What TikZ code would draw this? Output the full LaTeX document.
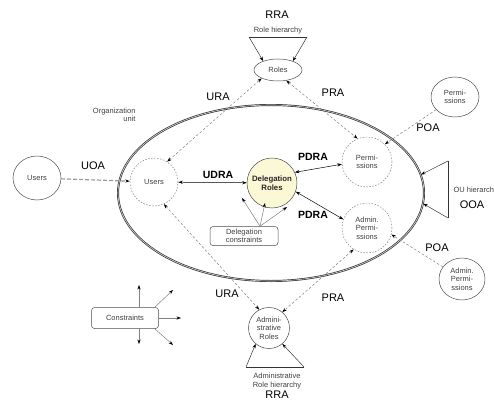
\documentclass[tikz,border=0pt]{standalone}
\usepackage{fontspec}
\setmainfont{Liberation Sans}
\usetikzlibrary{arrows.meta,shapes.geometric,calc}
\definecolor{dryellow}{HTML}{FBF8D6}
\begin{document}
\begin{tikzpicture}[x=1pt,y=-1pt,
  tip/.tip={Stealth[length=4.5pt,width=3.2pt,black]},
  small/.style={font=\fontsize{7.5}{8.5}\selectfont, text=black!75, align=center},
  lbl/.style={font=\fontsize{11}{12}\selectfont, inner sep=0pt},
  blbl/.style={font=\fontsize{10.5}{12}\selectfont\bfseries, inner sep=0pt},
  dcirc/.style={circle, draw=gray, dash pattern=on 1.5pt off 1.5pt, line width=0.5pt, inner sep=0pt, small},
  sell/.style={ellipse, draw=black!70, line width=0.5pt, inner sep=0pt, small},
  dline/.style={draw=gray, dash pattern=on 2.5pt off 2pt, line width=0.5pt},
  sline/.style={draw=black, line width=0.5pt},
  gline/.style={draw=gray, line width=0.5pt},
  hline/.style={draw=black!80, line width=0.5pt},
  uoaline/.style={draw=gray!80, dash pattern=on 4pt off 2pt, line width=1.2pt},
  box/.style={draw=black!70, line width=0.5pt, rounded corners=3pt, inner sep=1pt, small}
]
\useasboundingbox (0,0) rectangle (494,401);
\fill[white] (0,0) rectangle (494,401);

% organization unit
\node[ellipse, draw=black!80, line width=0.7pt, double=white!85!black, double distance=0.6pt,
      minimum width=306pt, minimum height=176pt, inner sep=0pt] (ou) at (271,193) {};
\node[small, align=right, anchor=east] (outxt) at (139,115) {Organization\\unit};

% roles and hierarchy
\node[sell, minimum width=48pt, minimum height=22pt] (roles) at (278,70) {Roles};
\node[small] (rhtxt) at (278,31) {Role hierarchy};
\node[lbl] (rra1) at (277,15) {RRA};
\coordinate (rhL) at (249,37);
\coordinate (rhR) at (307,37);
\draw[hline] (rhL) -- (rhR);
\draw[hline,-tip] (rhL) -- (roles.149);
\draw[hline,-tip] (rhR) -- (roles.31);

% users
\node[sell, minimum width=48pt, minimum height=44pt] (uout) at (37,178) {Users};
\node[dcirc, minimum size=48pt] (uin) at (154,182) {Users};
\draw[uoaline,-tip] (uout) -- (uin);
\node[lbl] (uoa) at (93,166) {UOA};

% permissions
\node[dcirc, minimum size=50pt] (pin) at (367,162) {Permi-\\ssions};
\node[sell, minimum width=48pt, minimum height=40pt] (pout) at (455,97) {Permi-\\ssions};
\node[dcirc, minimum size=50pt] (apin) at (367,228) {Admin.\\Permi-\\ssions};
\node[sell, minimum width=46pt, minimum height=42pt] (apout) at (462,279) {Admin.\\Permi-\\ssions};

% delegation roles
\node[circle, draw=black!70, fill=dryellow, line width=0.5pt, minimum size=50pt, inner sep=0pt,
      font=\fontsize{7.8}{9}\selectfont\bfseries, text=black!85, align=center] (dr) at (272,183) {Delegation\\Roles};

% admin roles
\node[circle, draw=black!70, line width=0.5pt, minimum size=41pt, inner sep=0pt, small] (ar) at (269,328) {Admini-\\strative\\Roles};

% URA / PRA upper
\draw[dline,tip-tip] (uin.57) -- (roles.-153);
\node[lbl] (ura1) at (218,97) {URA};
\draw[dline,tip-tip] (roles.-52) -- (pin.112);
\node[lbl] (pra1) at (333,93) {PRA};

% POA
\draw[dline,-tip] (pout) -- (pin.45);
\node[lbl] (poa1) at (428,128) {POA};
\draw[dline,-tip] (apout) -- (apin.-15);
\node[lbl] (poa2) at (437,248) {POA};

% UDRA / PDRA
\draw[sline,tip-tip] (uin) -- (dr);
\node[blbl] (udra) at (218,175) {UDRA};
\draw[sline,tip-tip] (dr.25) -- (pin.185);
\node[blbl] (pdra1) at (313,157) {PDRA};
\draw[sline,tip-tip] (dr.-20) -- (apin.160);
\node[blbl] (pdra2) at (313,215) {PDRA};

% delegation constraints
\node[box, minimum width=68pt, minimum height=19pt] (dc) at (244,236) {Delegation\\constraints};
\coordinate (dco) at ($(dc.north)+(16,0)$);
\coordinate (dct1) at (242,198);
\coordinate (dct2) at (265,203);
\coordinate (dct3) at (287,207);
\draw[gline,-tip] (dco) -- (dct1);
\draw[gline,-tip] (dco) -- (dct2);
\draw[gline,-tip] (dco) -- (dct3);

% URA / PRA lower
\draw[dline,tip-tip] (uin.-66) -- (ar.118);
\node[lbl] (ura2) at (227,294) {URA};
\draw[dline,tip-tip] (apin.-122) -- (ar.50);
\node[lbl] (pra2) at (333,298) {PRA};

% admin role hierarchy
\coordinate (arhL) at (246,367);
\coordinate (arhR) at (304,367);
\draw[hline] (arhL) -- (arhR);
\draw[hline,-tip] (arhL) -- (ar.-130);
\draw[hline,-tip] (arhR) -- (ar.-50);
\node[small] (arhtxt) at (277,381) {Administrative\\Role hierarchy};
\node[lbl] (rra2) at (277,395) {RRA};

% OU hierarchy
\coordinate (ohT) at (448,161);
\coordinate (ohB) at (448,218);
\draw[hline] (ohT) -- (ohB);
\draw[hline,-tip] (ohT) -- (ou.7);
\draw[hline,-tip] (ohB) -- (ou.-4.5);
\node[small, anchor=west] (ohtxt) at (450,190) {OU hierarch};
\node[lbl] (ooa) at (472,205) {OOA};

% constraints
\node[box, minimum width=67pt, minimum height=21pt] (cb) at (125,318) {Constraints};
\coordinate (ct1) at (139,285);
\coordinate (ct2) at (173,290);
\coordinate (ct3) at (181,318);
\coordinate (ct4) at (173,345);
\coordinate (ct5) at (139,344);
\draw[gline,-tip] (cb.north -| ct1) -- (ct1);
\draw[gline,-tip] ($(cb.north east)+(-4,0)$) -- (ct2);
\draw[gline,-tip] (cb.east) -- (ct3);
\draw[gline,-tip] ($(cb.south east)+(-4,0)$) -- (ct4);
\draw[gline,-tip] (cb.south -| ct5) -- (ct5);
\end{tikzpicture}
\end{document}
